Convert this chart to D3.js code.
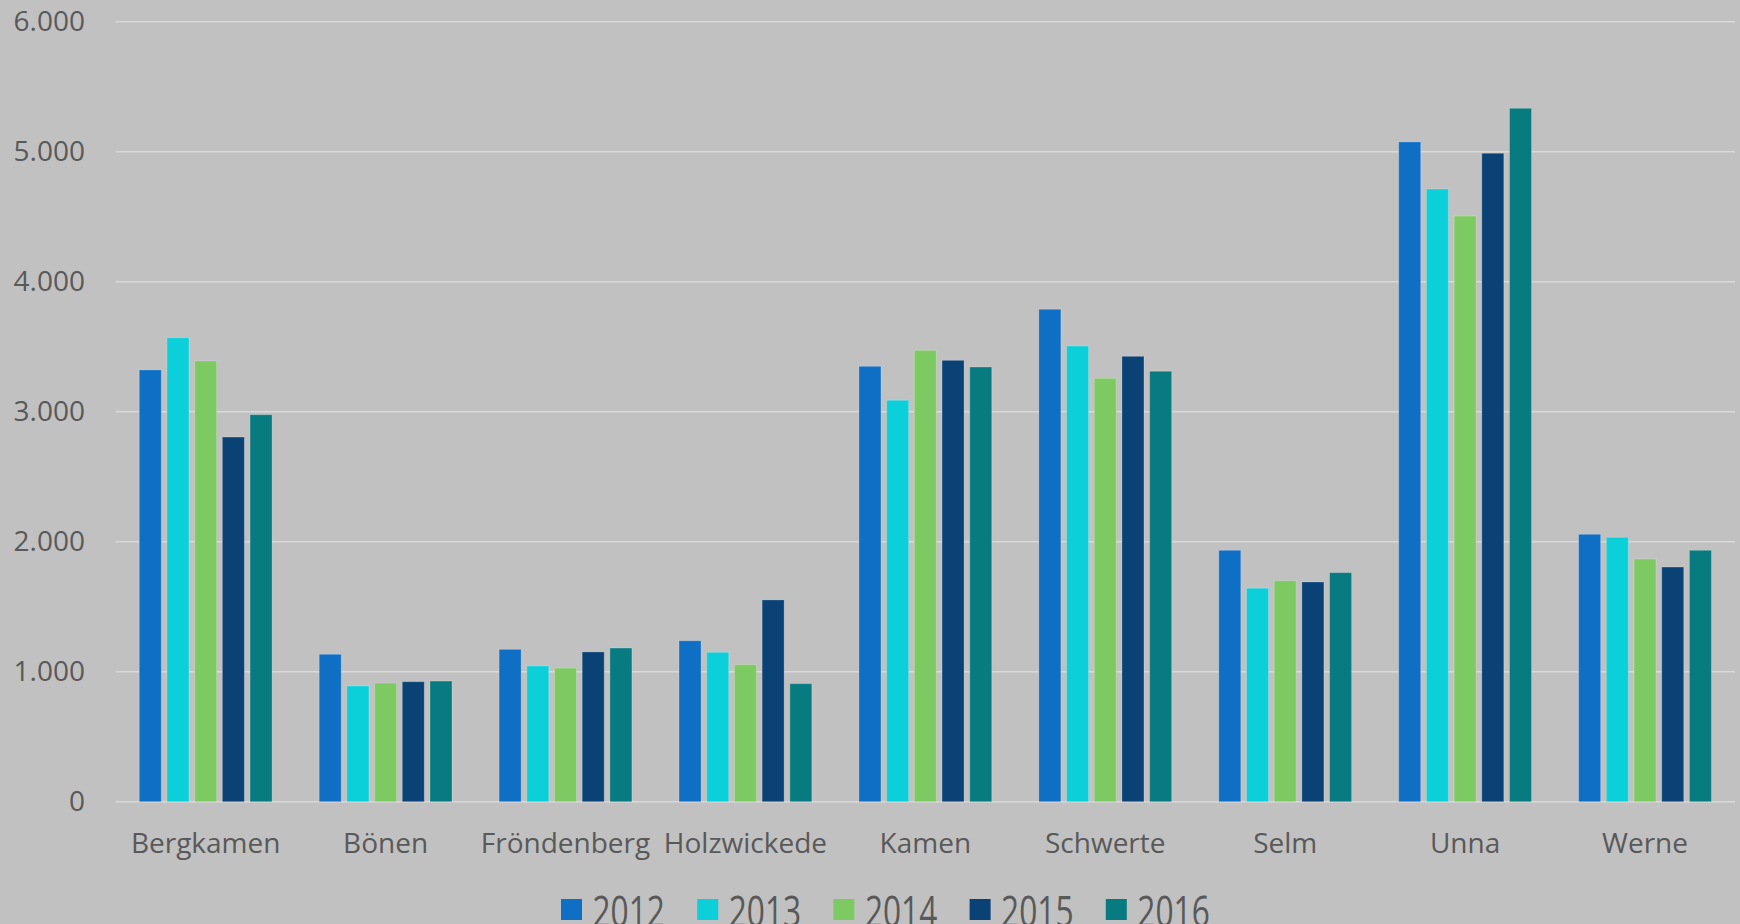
<!DOCTYPE html>
<html>
<head>
<meta charset="utf-8">
<script src="https://cdn.jsdelivr.net/npm/d3@7"></script>
<style>
  html, body { margin: 0; padding: 0; background: #c1c1c1; overflow: hidden; }
  svg { display: block; }
</style>
</head>
<body>
<div id="graph"></div>
<script>
const towns = ["Bergkamen", "Bönen", "Fröndenberg", "Holzwickede", "Kamen", "Schwerte", "Selm", "Unna", "Werne"];
const years = ["2012", "2013", "2014", "2015", "2016"];
const v2012 = [3321, 1134, 1172, 1238, 3349, 3788, 1934, 5075, 2057];
const v2013 = [3569, 890, 1044, 1149, 3088, 3505, 1642, 4713, 2034];
const v2014 = [3390, 913, 1028, 1054, 3472, 3257, 1700, 4505, 1867];
const v2015 = [2805, 923, 1152, 1552, 3395, 3426, 1690, 4988, 1805];
const v2016 = [2977, 928, 1182, 908, 3344, 3311, 1762, 5334, 1934];
const yTicks = [0, 1000, 2000, 3000, 4000, 5000, 6000];
const colors = ["#0e6fc5", "#0bd0d9", "#7eca62", "#0a4276", "#087b80"];

const series = [v2012, v2013, v2014, v2015, v2016];

width = 1740;
height = 924;
marginLeft = 115.7;
marginRight = 5;
marginTop = 21.7;
marginBottom = 122.3;

const svg = d3
  .select("#graph")
  .append("svg")
  .attr("width", width)
  .attr("height", height)
  .attr("viewBox", [0, 0, width, height]);

svg.append("rect").attr("width", width).attr("height", height).attr("fill", "#c1c1c1");

const xScale = d3.scaleBand(towns, [marginLeft, width - marginRight])
  .paddingInner(0.262)
  .paddingOuter(0.131);
const xInner = d3.scaleBand(years, [0, xScale.bandwidth()]).paddingInner(0.206);
const yScale = d3.scaleLinear([0, 6000], [height - marginBottom, marginTop]);

const fmt = (d) => d3.format(",")(d).replace(/,/g, ".");

// gridlines
svg
  .append("g")
  .attr("stroke", "#d9d9d9")
  .attr("stroke-width", 1.5)
  .selectAll("line")
  .data(yTicks)
  .join("line")
  .attr("x1", marginLeft)
  .attr("x2", width - marginRight)
  .attr("y1", (d) => yScale(d))
  .attr("y2", (d) => yScale(d));

// y labels
svg
  .append("g")
  .attr("font-family", "Open Sans")
  .attr("font-size", 28)
  .attr("fill", "#595959")
  .attr("text-anchor", "end")
  .selectAll("text")
  .data(yTicks)
  .join("text")
  .attr("x", 85)
  .attr("y", (d) => yScale(d) + 9.5)
  .text(fmt);

// bars
const groups = svg
  .append("g")
  .selectAll("g")
  .data(towns)
  .join("g")
  .attr("transform", (d) => `translate(${xScale(d)},0)`);

groups
  .selectAll("rect")
  .data((d, i) => years.map((y, j) => ({ year: y, j: j, value: series[j][i] })))
  .join("rect")
  .attr("x", (d) => xInner(d.year))
  .attr("y", (d) => yScale(d.value))
  .attr("width", xInner.bandwidth())
  .attr("height", (d) => yScale(0) - yScale(d.value))
  .attr("fill", (d) => colors[d.j])
  .attr("stroke", "rgba(255,255,255,0.22)")
  .attr("stroke-width", 1);

// x labels
svg
  .append("g")
  .attr("font-family", "Open Sans")
  .attr("font-size", 28)
  .attr("fill", "#595959")
  .attr("text-anchor", "middle")
  .selectAll("text")
  .data(towns)
  .join("text")
  .attr("x", (d) => xScale(d) + xScale.bandwidth() / 2)
  .attr("y", 853)
  .text((d) => d);

// legend
const legend = svg
  .append("g")
  .selectAll("g")
  .data(years)
  .join("g")
  .attr("transform", (d, i) => `translate(${561 + i * 136.2},0)`);

legend
  .append("rect")
  .attr("x", 0)
  .attr("y", 899)
  .attr("width", 21)
  .attr("height", 21)
  .attr("fill", (d, i) => colors[i]);

legend
  .append("text")
  .attr("font-family", "Open Sans")
  .attr("font-size", 44)
  .attr("fill", "#595959")
  .attr("transform", "translate(31.5,927) scale(0.72,1)")
  .text((d) => d);
</script>
</body>
</html>
